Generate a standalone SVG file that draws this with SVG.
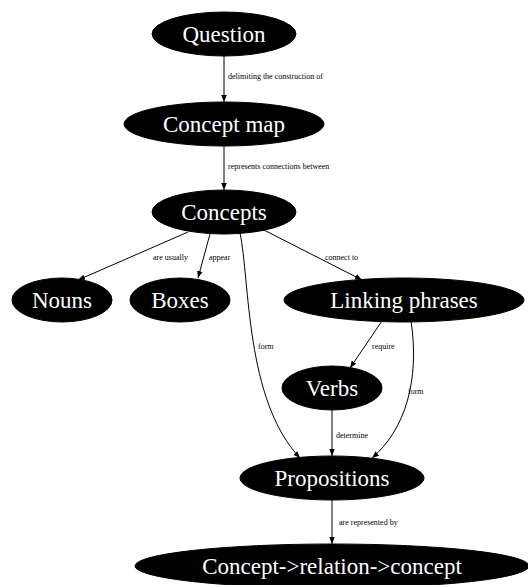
<svg xmlns="http://www.w3.org/2000/svg" width="528" height="585" viewBox="0 0 528 585">
<style>
.n ellipse{fill:#000;stroke:#000}
.n text{fill:#fff;font-family:"Liberation Serif",serif;font-size:23px;text-anchor:middle}
.e path{fill:none;stroke:#000;stroke-width:1}
.e text{fill:#000;font-family:"Liberation Serif",serif;font-size:8px}
</style>
<defs>
<marker id="a" viewBox="0 0 10 10" refX="10" refY="5" markerWidth="7" markerHeight="7" orient="auto" markerUnits="userSpaceOnUse">
<path d="M0,1 L10,5 L0,9 z" fill="#000"/>
</marker>
</defs>
<rect width="528" height="585" fill="#fff"/>
<g class="e" id="edges">
<path d="M224,56 L224,102" marker-end="url(#a)"/>
<text x="228" y="79">delimiting the construction of</text>
<path d="M224,146 L224,190" marker-end="url(#a)"/>
<text x="228" y="169">represents connections between</text>
<path d="M188,232 L78,280" marker-end="url(#a)"/>
<text x="153" y="260">are usually</text>
<path d="M210,234 L198,278" marker-end="url(#a)"/>
<text x="209" y="260">appear</text>
<path d="M240,233 C250,280 245,400 300,458" marker-end="url(#a)"/>
<text x="258" y="349">form</text>
<path d="M262,229 L362,280" marker-end="url(#a)"/>
<text x="325" y="260">connect to</text>
<path d="M382,321 L350,368" marker-end="url(#a)"/>
<text x="372" y="349">require</text>
<path d="M411,321 C420,380 405,430 372,458" marker-end="url(#a)"/>
<text x="408" y="394">form</text>
<path d="M332,410 L332,456" marker-end="url(#a)"/>
<text x="336" y="438">determine</text>
<path d="M332,500 L332,544" marker-end="url(#a)"/>
<text x="339" y="525">are represented by</text>
</g>
<g class="n" id="question"><ellipse cx="224" cy="34" rx="72" ry="22"/><text x="224" y="42">Question</text></g>
<g class="n" id="concept-map"><ellipse cx="224" cy="124" rx="100" ry="22"/><text x="224" y="132">Concept map</text></g>
<g class="n" id="concepts"><ellipse cx="224" cy="212" rx="72" ry="22"/><text x="224" y="220">Concepts</text></g>
<g class="n" id="nouns"><ellipse cx="62" cy="300" rx="50" ry="22"/><text x="62" y="308">Nouns</text></g>
<g class="n" id="boxes"><ellipse cx="180" cy="300" rx="50" ry="22"/><text x="180" y="308">Boxes</text></g>
<g class="n" id="linking-phrases"><ellipse cx="404" cy="300" rx="120" ry="22"/><text x="404" y="308">Linking phrases</text></g>
<g class="n" id="verbs"><ellipse cx="332" cy="388" rx="50" ry="22"/><text x="332" y="396">Verbs</text></g>
<g class="n" id="propositions"><ellipse cx="332" cy="478" rx="92" ry="22"/><text x="332" y="486">Propositions</text></g>
<g class="n" id="crc"><ellipse cx="332" cy="566" rx="197" ry="22"/><text x="332" y="574">Concept-&gt;relation-&gt;concept</text></g>
</svg>
